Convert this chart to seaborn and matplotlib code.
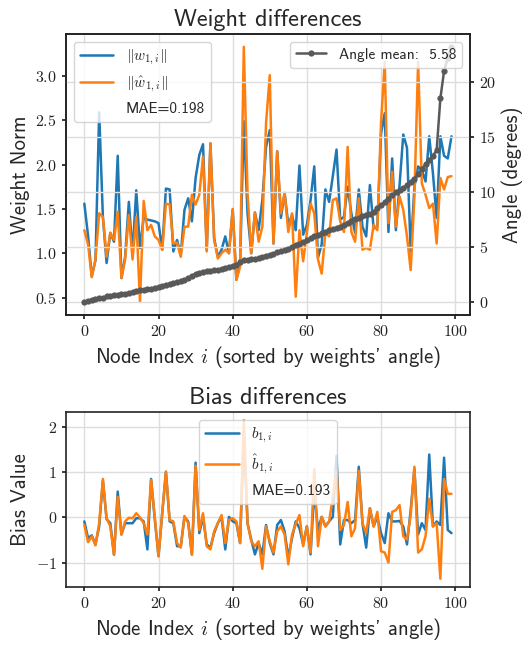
import matplotlib
matplotlib.use("Agg")
import matplotlib.pyplot as plt
from matplotlib.ticker import FormatStrFormatter, MultipleLocator
import numpy as np
import pandas as pd
import seaborn as sns

# ---------------- data ----------------
node_index = list(range(100))

w_norm = [1.56, 1.20, 0.74, 0.92, 2.59, 1.41, 0.89, 1.23, 1.13, 2.10,
          0.72, 0.96, 1.58, 1.00, 1.71, 1.06, 1.40, 1.38, 1.37, 1.36,
          1.34, 1.04, 1.73, 1.72, 1.02, 1.15, 0.98, 1.49, 1.62, 1.36,
          1.85, 2.11, 2.23, 1.04, 2.24, 1.17, 0.96, 1.04, 1.19, 1.00,
          1.49, 0.70, 0.89, 2.49, 1.45, 1.00, 1.46, 1.26, 1.60, 2.20,
          2.39, 1.11, 2.15, 1.40, 1.68, 1.32, 1.43, 1.26, 1.99, 1.21,
          1.32, 1.60, 1.98, 0.95, 1.10, 1.72, 1.58, 1.87, 2.17, 1.38,
          1.41, 1.75, 1.45, 1.23, 1.72, 1.30, 1.19, 1.77, 1.28, 1.30,
          2.35, 2.58, 1.24, 2.07, 1.26, 1.77, 2.34, 2.19, 1.02, 1.75,
          1.98, 1.94, 1.81, 2.32, 1.90, 1.40, 2.32, 2.10, 2.07, 2.32]

w_hat_norm = [1.26, 1.10, 0.73, 0.93, 1.45, 1.41, 0.96, 1.23, 1.15, 1.47,
              0.72, 0.93, 1.43, 0.93, 1.41, 0.45, 1.59, 1.26, 1.32, 1.19,
              1.15, 1.04, 1.56, 1.55, 1.11, 1.12, 0.96, 1.30, 1.30, 1.66,
              1.55, 1.66, 2.09, 1.02, 2.24, 1.15, 0.94, 1.00, 1.04, 1.00,
              1.50, 0.70, 0.85, 3.33, 1.68, 1.00, 1.46, 1.13, 1.30, 2.47,
              3.01, 1.11, 2.15, 1.45, 1.68, 1.24, 1.45, 0.51, 1.26, 0.91,
              1.23, 1.56, 1.45, 0.93, 0.77, 1.23, 1.19, 1.60, 1.62, 1.36,
              1.24, 2.20, 1.24, 1.13, 1.62, 1.04, 1.06, 1.04, 1.32, 1.26,
              2.47, 3.16, 1.34, 1.92, 1.30, 1.64, 1.49, 1.19, 0.81, 1.64,
              3.16, 1.79, 1.66, 1.51, 1.56, 1.11, 1.85, 1.72, 1.86, 1.87]

angle_deg = [0.0, 0.1, 0.2, 0.3, 0.35, 0.4, 0.5, 0.55, 0.6, 0.65,
             0.7, 0.75, 0.8, 0.9, 1.0, 1.05, 1.1, 1.15, 1.2, 1.3,
             1.35, 1.45, 1.5, 1.6, 1.7, 1.8, 1.9, 2.0, 2.2, 2.4,
             2.55, 2.65, 2.7, 2.8, 2.85, 2.9, 2.95, 3.0, 3.1, 3.2,
             3.3, 3.4, 3.6, 3.8, 3.85, 3.9, 3.95, 4.0, 4.1, 4.2,
             4.3, 4.4, 4.5, 4.6, 4.75, 4.85, 5.0, 5.15, 5.3, 5.45,
             5.6, 5.8, 6.0, 6.1, 6.25, 6.4, 6.5, 6.6, 6.7, 6.85,
             7.0, 7.2, 7.35, 7.5, 7.65, 7.8, 7.9, 8.0, 8.2, 8.5,
             8.8, 9.1, 9.4, 9.7, 10.0, 10.2, 10.4, 10.6, 10.9, 11.2,
             11.6, 12.1, 12.5, 12.9, 13.3, 13.8, 18.5, 21.0, 22.2, 23.2]

b_true = [-0.09, -0.46, -0.40, -0.60, -0.20, 0.81, -0.04, -0.13, -0.83, 0.57,
          -0.38, -0.13, -0.13, -0.13, -0.02, -0.02, -0.09, -0.71, 0.85, -0.05,
          -0.86, 0.09, 1.01, -0.09, -0.13, -0.64, -0.64, 0.01, -0.09, -0.82,
          1.21, -0.35, 0.01, -0.60, -0.67, -0.35, -0.13, 0.01, -0.71, 0.01,
          -0.09, -0.13, -0.57, 1.90, -0.13, -0.49, -0.82, -0.57, -0.82, -0.17,
          -0.57, -0.82, -0.17, -0.06, -0.31, -0.89, -0.46, -0.09, -0.24, -0.60,
          -0.20, -0.82, 0.59, -0.28, 0.01, -0.20, -0.09, 0.01, 1.36, -0.60,
          -0.06, -0.06, -0.13, -0.06, 1.12, -0.13, -0.67, 0.20, -0.20, 0.01,
          -0.35, -0.57, 0.09, -0.09, -0.09, -0.08, -0.20, -0.60, 0.16, 1.07,
          -0.38, -0.13, -0.28, 1.39, -0.20, -0.09, -0.17, 1.32, -0.28, -0.35]

b_hat = [-0.17, -0.55, -0.42, -0.62, -0.13, 0.85, -0.02, -0.20, -0.83, 0.45,
         -0.38, -0.09, -0.01, -0.02, 0.09, 0.00, -0.13, -0.38, 0.83, 0.00,
         -0.86, 0.09, 1.01, -0.06, -0.09, -0.57, -0.67, 0.03, -0.13, -0.83,
         1.14, -0.28, 0.09, -0.64, -0.71, -0.31, -0.13, 0.05, -0.57, -0.06,
         -0.02, -0.09, -0.57, 2.15, -0.13, -0.53, -0.64, -0.53, -1.14, -0.20,
         -0.53, -0.78, -0.31, -0.20, -0.38, -1.04, -0.38, -0.15, 0.05, -0.64,
         -0.20, -0.78, 1.07, -0.64, 0.01, -0.20, -0.09, 0.45, 1.03, -0.28,
         -0.17, 0.34, -0.42, -0.24, 1.03, -0.13, -0.35, 0.20, -0.20, 0.12,
         -0.75, -0.78, -1.00, 0.12, 0.16, 0.27, -0.42, -0.49, 0.05, 1.12,
         -0.78, -0.71, -0.42, 0.41, -0.20, -0.13, -1.36, 0.85, 0.52, 0.52]

weight_labels = [r"$\Vert w_{1,i}\Vert$", r"$\Vert \hat{w}_{1,i}\Vert$"]
bias_labels = [r"$b_{1,i}$", r"$\hat{b}_{1,i}$"]
weight_mae_text = "MAE=0.198"
bias_mae_text = "MAE=0.193"
angle_text = "Angle mean:  5.58"

# ---------------- style ----------------
sns.set_theme(style="whitegrid")
plt.rcParams.update({
    "font.family": ["cmss10", "DejaVu Sans"],
    "mathtext.fontset": "cm",
    "axes.unicode_minus": False,
    "axes.edgecolor": "#222222",
    "axes.linewidth": 1.2,
    "grid.color": "#dddddd",
    "grid.linewidth": 1.0,
    "text.color": "#262626",
    "axes.labelcolor": "#262626",
    "xtick.bottom": True,
    "ytick.left": True,
    "xtick.major.size": 3,
    "ytick.major.size": 3,
    "xtick.color": "#222222",
    "ytick.color": "#222222",
    "xtick.labelsize": 11.5,
    "ytick.labelsize": 11.5,
    "legend.fontsize": 11,
})

blue = "#1f77b4"
orange = "#ff7f0e"
gray = "#595959"

fig = plt.figure(figsize=(5.3, 6.46), dpi=100)
ax1 = fig.add_axes([0.1245, 0.5128, 0.762, 0.4345])
ax3 = fig.add_axes([0.1245, 0.0918, 0.762, 0.27])

# ---------------- top panel ----------------
df_w = pd.DataFrame({"i": node_index, "w": w_norm, "w_hat": w_hat_norm, "angle": angle_deg})
sns.lineplot(data=df_w, x="i", y="w", ax=ax1, color=blue, lw=1.8, label=weight_labels[0])
sns.lineplot(data=df_w, x="i", y="w_hat", ax=ax1, color=orange, lw=1.8, label=weight_labels[1])
ax1.plot([], [], " ", label=weight_mae_text)
ax1.set_title("Weight differences", fontsize=17.5)
ax1.set_xlabel(r"Node Index $i$ (sorted by weights' angle)", fontsize=15)
ax1.set_ylabel("Weight Norm", fontsize=15)
ax1.grid(axis="y", visible=False)
ax1.grid(axis="x", visible=True)
ax1.yaxis.set_major_locator(MultipleLocator(0.5))
ax1.yaxis.set_major_formatter(FormatStrFormatter(r"$%.1f$"))
ax1.xaxis.set_major_formatter(FormatStrFormatter(r"$%d$"))
h1, l1 = ax1.get_legend_handles_labels()
if ax1.get_legend() is not None:
    ax1.get_legend().remove()

ax2 = ax1.twinx()
sns.lineplot(data=df_w, x="i", y="angle", ax=ax2, color=gray, lw=1.8,
             marker="o", markersize=4.5, markeredgewidth=0, label=angle_text)
ax2.set_ylabel("Angle (degrees)", fontsize=15)
ax2.yaxis.set_major_locator(MultipleLocator(5))
ax2.yaxis.set_major_formatter(FormatStrFormatter(r"$%d$"))
ax2.grid(axis="y", visible=True)
ax2.tick_params(axis="y", right=True, length=3)
for s in ax2.spines.values():
    s.set_color("#222222")
h2, l2 = ax2.get_legend_handles_labels()
leg_w = ax2.legend(h1, l1, loc="upper left", handlelength=2.2)
ax2.add_artist(leg_w)
ax2.legend(h2, l2, loc="upper right")

# ---------------- bottom panel ----------------
df_b = pd.DataFrame({"i": node_index, "b": b_true, "b_hat": b_hat})
sns.lineplot(data=df_b, x="i", y="b", ax=ax3, color=blue, lw=1.8, label=bias_labels[0])
sns.lineplot(data=df_b, x="i", y="b_hat", ax=ax3, color=orange, lw=1.8, label=bias_labels[1])
ax3.plot([], [], " ", label=bias_mae_text)
ax3.set_title("Bias differences", fontsize=17.5)
ax3.set_xlabel(r"Node Index $i$ (sorted by weights' angle)", fontsize=15)
ax3.set_ylabel("Bias Value", fontsize=15)
ax3.yaxis.set_major_locator(MultipleLocator(1))
ax3.yaxis.set_major_formatter(FormatStrFormatter(r"$%d$"))
ax3.xaxis.set_major_formatter(FormatStrFormatter(r"$%d$"))
ax3.legend(loc="upper center", handlelength=2.2)

fig.savefig("out.png", dpi=100)
